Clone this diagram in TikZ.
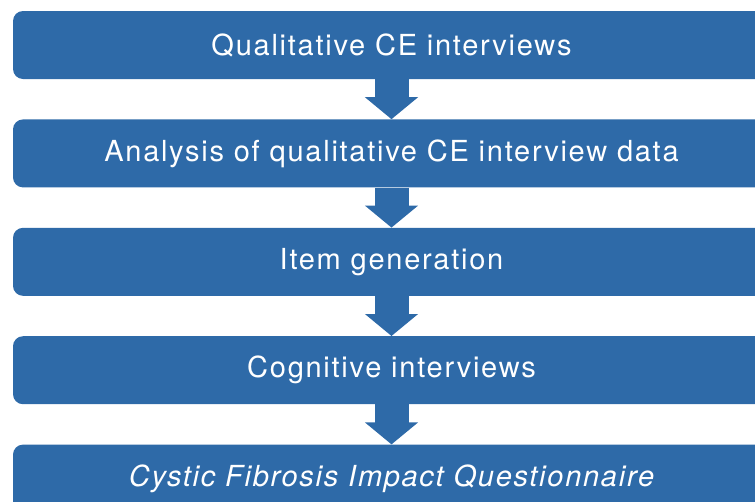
\documentclass[tikz,border=0pt]{standalone}
\usepackage{fontspec}
\setmainfont{TeX Gyre Heros}[LetterSpace=6]
\usetikzlibrary{positioning,arrows.meta}
\definecolor{stepblue}{RGB}{46,106,168}

\begin{document}
\begin{tikzpicture}[x=1pt,y=1pt,
    node distance=40pt,
    stepbox/.style={fill=stepblue,text=white,rounded corners=10pt,
        minimum width=757pt,minimum height=68pt,inner sep=0pt,
        font=\fontsize{29}{33}\selectfont},
    downarrow/.style={stepblue,line width=34pt,
        -{Triangle[width=52pt,length=22pt]}}]
    % page frame
    \useasboundingbox (0,0) rectangle (755,-501);
    \clip (0,0) rectangle (755,-501);
    % steps
    \node[stepbox] (interviews) at (391.5,-45) {Qualitative CE interviews};
    \node[stepbox,below=of interviews] (analysis) {Analysis of qualitative CE interview data};
    \node[stepbox,below=of analysis] (items) {Item generation};
    \node[stepbox,below=of items] (cognitive) {Cognitive interviews};
    \node[stepbox,below=of cognitive] (cfiq) {\itshape Cystic Fibrosis Impact Questionnaire};
    % arrows between steps
    \draw[downarrow] (interviews.south) -- (analysis.north);
    \draw[downarrow] (analysis.south) -- (items.north);
    \draw[downarrow] (items.south) -- (cognitive.north);
    \draw[downarrow] (cognitive.south) -- (cfiq.north);
\end{tikzpicture}
\end{document}
